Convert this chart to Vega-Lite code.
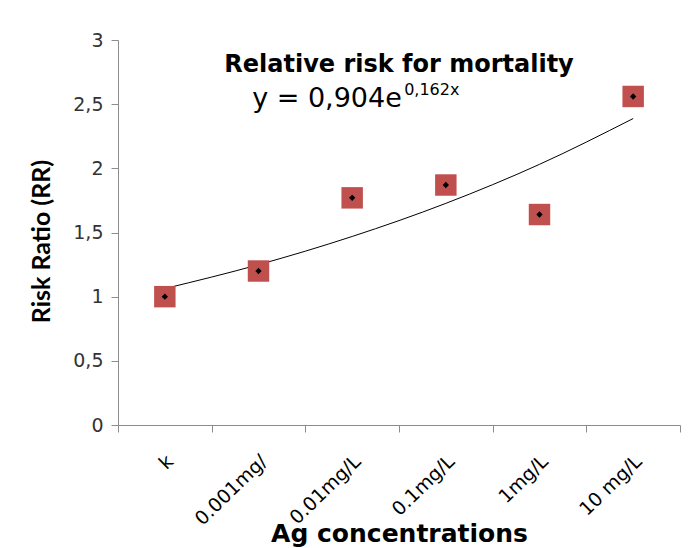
{
  "$schema": "https://vega.github.io/schema/vega-lite/v6.json",
  "width": 562,
  "height": 385,
  "autosize": {"type": "none"},
  "padding": {"left": 118, "top": 40, "right": 19, "bottom": 123},
  "background": "white",
  "config": {"view": {"stroke": null}, "font": "DejaVu Sans"},
  "title": {"text": "Relative risk for mortality", "fontSize": 24, "fontWeight": "bold", "font": "DejaVu Sans", "color": "black", "anchor": "middle", "baseline": "alphabetic", "offset": -65},
  "data": {"values": [
    {"conc": "k", "rr": 1.0, "trend": 1.063},
    {"conc": "0.001mg/", "rr": 1.2, "trend": 1.249},
    {"conc": "0.01mg/L", "rr": 1.77, "trend": 1.469},
    {"conc": "0.1mg/L", "rr": 1.87, "trend": 1.727},
    {"conc": "1mg/L", "rr": 1.64, "trend": 2.031},
    {"conc": "10 mg/L", "rr": 2.56, "trend": 2.388}
  ]},
  "encoding": {
    "x": {"field": "conc", "type": "nominal", "sort": null,
      "scale": {"paddingInner": 0, "paddingOuter": 0},
      "axis": {"title": "Ag concentrations", "titleFontSize": 25, "titleFontWeight": "bold", "titleColor": "black", "titleFont": "DejaVu Sans",
        "titleBaseline": "alphabetic", "titleY": 116,
        "labelAngle": -44, "labelAlign": "right", "labelBaseline": "middle", "labelFontSize": 19, "labelColor": "black", "labelPadding": 26, "labelOffset": 5,
        "tickBand": "extent", "tickSize": 7, "domainColor": "#8c8c8c", "tickColor": "#8c8c8c"}}
  },
  "layer": [
    {"mark": {"type": "line", "color": "black", "strokeWidth": 1, "interpolate": "monotone"},
     "encoding": {"y": {"field": "trend", "type": "quantitative", "scale": {"domain": [0, 3]},
        "axis": {"title": "Risk Ratio (RR)", "titleFontSize": 25, "titleFontWeight": "bold", "titleColor": "black", "titleFont": "Lato",
          "titleY": 201,
          "values": [0, 0.5, 1, 1.5, 2, 2.5, 3], "labelExpr": "replace(toString(datum.value), '.', ',')",
          "labelFontSize": 19, "labelColor": "#333333", "labelPadding": 8, "tickSize": 7, "grid": false,
          "domainColor": "#8c8c8c", "tickColor": "#8c8c8c", "titlePadding": 18}}}},
    {"mark": {"type": "point", "shape": "square", "filled": true, "color": "#C0504D", "opacity": 1, "size": 460},
     "encoding": {"y": {"field": "rr", "type": "quantitative"}}},
    {"mark": {"type": "point", "shape": "diamond", "filled": true, "color": "black", "opacity": 1, "size": 40},
     "encoding": {"y": {"field": "rr", "type": "quantitative"}}},
    {"data": {"values": [{"t": "y = 0,904e"}]},
     "mark": {"type": "text", "align": "left", "baseline": "alphabetic", "fontSize": 27, "color": "black", "dx": -100},
     "encoding": {"x": {"datum": "0.01mg/L"}, "y": {"datum": 2.48}, "text": {"field": "t"}}},
    {"data": {"values": [{"t": "0,162x"}]},
     "mark": {"type": "text", "align": "left", "baseline": "alphabetic", "fontSize": 16, "color": "black", "dx": 52},
     "encoding": {"x": {"datum": "0.01mg/L"}, "y": {"datum": 2.57}, "text": {"field": "t"}}}
  ]
}
